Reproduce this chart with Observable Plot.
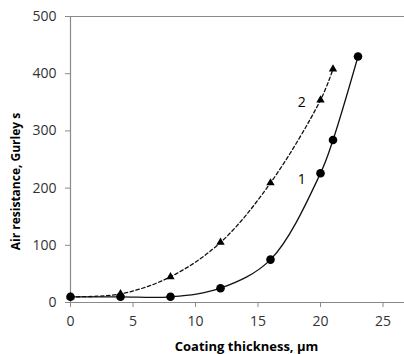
<!DOCTYPE html>
<html>
<head>
<meta charset="utf-8">
<script src="https://cdn.jsdelivr.net/npm/d3@7"></script>
<script src="https://cdn.jsdelivr.net/npm/@observablehq/plot@0.6"></script>
<style>
  html, body { margin: 0; padding: 0; background: #fff; }
  #chart { width: 404px; height: 354px; overflow: hidden; }
  #chart svg text { -webkit-font-smoothing: antialiased; }
</style>
</head>
<body>
<div id="chart"></div>
<script>
// Series 1: circles, solid smoothed line
const thickness1 = [0, 4, 8, 12, 16, 20, 21, 23];
const resistance1 = [10, 10, 10, 25, 75, 226, 284, 430];
// Series 2: triangles, dashed smoothed line
const thickness2 = [0, 4, 8, 12, 16, 20, 21];
const resistance2 = [10, 15, 45, 105, 209, 354, 408];
// Curve labels
const curveLabels = ["1", "2"];
const labelX = [18.5, 18.5];
const labelY = [215, 350];
// Axis ticks
const xTicks = [0, 5, 10, 15, 20, 25];
const yTicks = [0, 100, 200, 300, 400, 500];
const xTitle = "Coating thickness, µm";
const yTitle = "Air resistance, Gurley s";

const s1 = thickness1.map((x, i) => ({x, y: resistance1[i]}));
const s2 = thickness2.map((x, i) => ({x, y: resistance2[i]}));
const labs = curveLabels.map((t, i) => ({t, x: labelX[i], y: labelY[i]}));

const axisColor = "#8a8a8a";
const textColor = "#333333";

const chart = Plot.plot({
  width: 404,
  height: 354,
  marginLeft: 70,
  marginRight: 0,
  marginTop: 16,
  marginBottom: 52,
  style: {fontFamily: "'Open Sans', sans-serif", fontSize: "14px", color: textColor, background: "#fff"},
  x: {domain: [0, 26.72], ticks: xTicks},
  y: {domain: [0, 500], ticks: yTicks},
  marks: [
    Plot.ruleY([500], {stroke: axisColor, strokeWidth: 1, x1: -0.35, x2: 26.72, clip: false}),
    Plot.ruleY([0], {stroke: axisColor, strokeWidth: 1, x1: -0.35, x2: 26.72, clip: false}),
    Plot.ruleX([0], {stroke: axisColor, strokeWidth: 1.2}),
    Plot.axisX({ticks: xTicks, tickSize: 5, tickPadding: 9, stroke: axisColor, fill: textColor, label: null, fontSize: 14}),
    Plot.axisY({ticks: yTicks, tickSize: 5, tickPadding: 9, stroke: axisColor, fill: textColor, label: null, fontSize: 14}),
    Plot.line(s2, {x: "x", y: "y", curve: "catmull-rom", stroke: "#111", strokeWidth: 1.3, strokeDasharray: "3.5,2.5"}),
    Plot.line(s1, {x: "x", y: "y", curve: "catmull-rom", stroke: "#111", strokeWidth: 1.3}),
    Plot.dot(s2, {x: "x", y: "y", symbol: "triangle", r: 3.1, fill: "#000", stroke: "none"}),
    Plot.dot(s1, {x: "x", y: "y", symbol: "circle", r: 4.3, fill: "#000", stroke: "none"}),
    Plot.text(labs, {x: "x", y: "y", text: "t", fontSize: 14, fill: "#000"}),
    Plot.text([xTitle], {frameAnchor: "bottom", textAnchor: "middle", dx: 9, dy: 48, fontWeight: "bold", fontSize: 13, fill: "black"}),
    Plot.text([yTitle], {frameAnchor: "left", textAnchor: "middle", rotate: -90, dx: -54, dy: 22, fontWeight: "bold", fontSize: 12, fill: "black"})
  ]
});
document.getElementById("chart").appendChild(chart);
</script>
</body>
</html>
